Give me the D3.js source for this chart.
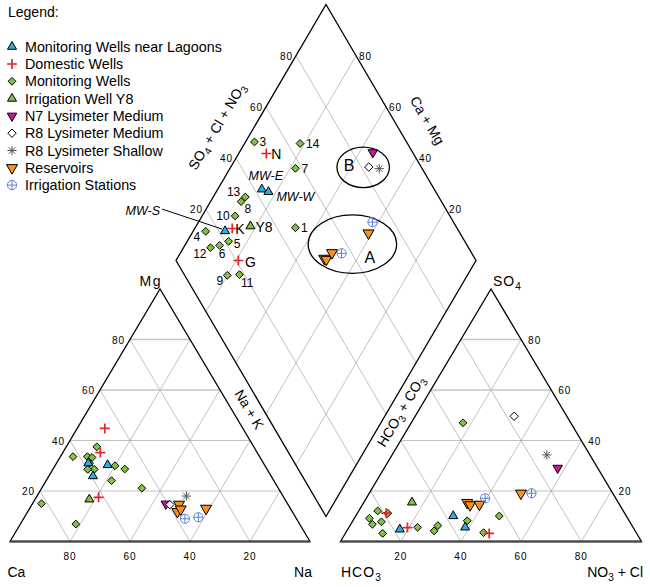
<!DOCTYPE html>
<html lang="en">
<head>
<meta charset="utf-8">
<title>Piper diagram</title>
<script src="https://cdn.jsdelivr.net/npm/d3@7"></script>
<style>
  body { margin: 0; background: #fff; }
  text { font-family: "Liberation Sans", Arial, sans-serif; fill: #000; }
  .tick { font-size: 10px; letter-spacing: 1px; }
</style>
</head>
<body>
<script>
// legend groups
var groupNames = ["Monitoring Wells near Lagoons", "Domestic Wells", "Monitoring Wells",
  "Irrigation Well Y8", "N7 Lysimeter Medium", "R8 Lysimeter Medium",
  "R8 Lysimeter Shallow", "Reservoirs", "Irrigation Stations"];

// samples, percent of meq/L
var sampleGroup = [0, 0, 0, 1, 1, 1, 2, 2, 2, 2, 2, 2, 2, 2, 2, 2, 2, 2, 2, 3, 4, 5, 6, 7, 7, 7, 7, 8, 8];
var sampleLabel = ["MW-E", "MW-W", "MW-S", "N", "K", "G", "1", "3", "4", "5", "6", "7", "8", "9",
  "10", "11", "12", "13", "14", "Y8", "", "", "", "", "", "", "", "", ""];
var caPct   = [59.4, 52.3, 58.4, 46.0, 52.3, 61.7, 45.5, 82.0, 62.2, 57.6, 59.8, 54.1, 52.3, 50.0,
  58.0, 47.4, 57.4, 56.0, 74.6, 65.2, 40.6, 39.4, 32.2, 28.1, 36.3, 38.3, 36.7, 32.4, 37.2];
var mgPct   = [25.9, 30.3, 31.0, 44.8, 35.2, 17.5, 21.1, 15.0, 33.6, 28.6, 28.6, 24.1, 37.5, 30.0,
  31.0, 28.7, 33.6, 33.3, 6.9, 16.7, 14.9, 14.6, 18.0, 13.1, 14.7, 11.8, 12.8, 9.6, 9.0];
var naPct   = [14.7, 17.4, 10.6, 9.2, 12.5, 20.8, 33.4, 3.0, 4.2, 13.8, 11.6, 21.8, 10.2, 20.0,
  11.0, 23.9, 9.0, 10.7, 18.5, 18.1, 44.5, 46.0, 49.8, 58.8, 49.0, 49.9, 50.5, 58.0, 53.8];
var hco3Pct = [57.5, 55.8, 77.9, 49.0, 75.0, 79.2, 53.8, 50.7, 84.4, 78.7, 82.5, 42.2, 66.8, 85.8,
  71.6, 81.6, 86.0, 64.5, 35.8, 68.5, 13.3, 17.5, 14.3, 30.5, 50.2, 49.7, 46.5, 27.0, 43.4];
var so4Pct  = [10.1, 5.6, 4.8, 3.2, 5.5, 11.2, 8.2, 3.5, 3.2, 11.2, 7.8, 10.1, 4.2, 9.2,
  5.6, 12.1, 6.8, 6.3, 47.0, 15.5, 29.1, 49.6, 34.3, 19.1, 15.4, 14.5, 14.7, 19.1, 17.1];
var clPct   = [32.4, 38.6, 17.3, 47.8, 19.5, 9.6, 38.0, 45.8, 12.4, 10.1, 9.7, 47.7, 29.0, 5.0,
  22.8, 6.3, 7.2, 29.2, 17.2, 16.0, 57.6, 32.9, 51.4, 50.4, 34.4, 35.8, 38.8, 53.9, 39.5];

var gridVals = [20, 40, 60, 80];

// water type ellipses in the diamond (Ca+Mg, SO4+Cl+NO3, half widths)
var zoneNames = ["B", "A"];
var zoneCaMg  = [55.8, 44.4];
var zoneAnion = [80.6, 62.0];
var zoneRx    = [17.5, 29.5];
var zoneRy    = [7.9, 11.4];

// ---------- styles ----------
var groupShape  = ["triUp", "cross", "diamond", "triUp", "triDown", "diamond", "star", "triDown", "circlePlus"];
var groupFill   = ["#2aaee4", "none", "#80c241", "#80c241", "#c6179d", "#fff", "none", "#f7901e", "none"];
var groupStroke = ["#000", "#e3262b", "#000", "#000", "#000", "#000", "#555", "#000", "#5b80d2"];
var groupSize   = [9, 5, 3.9, 9, 9.5, 4.2, 4.6, 11, 4.6];

// label placement around points in the diamond [dx, dy, anchor]
var labelPos = {
  "3": [5, 4, "start"], "N": [5, 5.5, "start"], "14": [6, 4.5, "start"], "7": [6, 4.5, "start"],
  "MW-E": [4, -9.5, "middle"], "MW-W": [8, 8.8, "start"], "13": [-5, -1, "end"], "8": [3.5, 11.5, "start"],
  "10": [-5.5, 4, "end"], "K": [3, 5.5, "start"], "Y8": [5, 6, "start"], "1": [5.5, 4, "start"],
  "4": [-5.5, 10, "end"], "5": [5, 7, "start"], "12": [-4, 10.5, "end"], "6": [2.5, 12.8, "middle"],
  "G": [6.5, 6.5, "start"], "9": [-4, 10, "end"], "11": [1.5, 12.3, "start"], "MW-S": [-65, -16, "end"]
};

var w = 650, h = 587;

var xL = d3.scaleLinear().domain([0, 100]).range([10, 310]);
var xR = d3.scaleLinear().domain([0, 100]).range([340.5, 641.5]);
var yT = d3.scaleLinear().domain([0, 100]).range([541.5, 289]);
var xD = d3.scaleLinear().domain([-100, 100]).range([176, 476]);
var yD = d3.scaleLinear().domain([0, 200]).range([516.5, 4.5]);

function catPt(mg, na) { return [xL(na + mg / 2), yT(mg)]; }
function anPt(so4, cl) { return [xR(cl + so4 / 2), yT(so4)]; }
function dmPt(c, a) { return [xD(a - c), yD(a + c)]; }

var svg = d3.select("body").append("svg")
  .attr("width", w).attr("height", h);

var grid = svg.append("g").attr("fill", "none");

function seg(p, q, cls) {
  grid.append("line")
    .attr("x1", p[0]).attr("y1", p[1]).attr("x2", q[0]).attr("y2", q[1])
    .attr("stroke", cls == "thick" ? "#c4c4c4" : "#a6a6a6")
    .attr("stroke-width", cls == "thick" ? 1.6 : 0.7);
}

gridVals.forEach(function(v) {
  // cation triangle
  seg(catPt(v, 0), catPt(v, 100 - v), v >= 60 ? "thick" : "thin");
  seg(catPt(0, v), catPt(100 - v, v));
  seg(catPt(0, 100 - v), catPt(100 - v, 0));
  // anion triangle
  seg(anPt(v, 0), anPt(v, 100 - v), v >= 60 ? "thick" : "thin");
  seg(anPt(0, v), anPt(100 - v, v));
  seg(anPt(0, 100 - v), anPt(100 - v, 0));
  // diamond
  seg(dmPt(0, v), dmPt(100, v));
  seg(dmPt(v, 0), dmPt(v, 100));
});

// outlines
var line = d3.line();
svg.append("path")
  .attr("d", line([catPt(0, 0), catPt(100, 0), catPt(0, 100)]) + "Z")
  .attr("fill", "none").attr("stroke", "#000").attr("stroke-width", 1.3);
svg.append("path")
  .attr("d", line([anPt(0, 0), anPt(100, 0), anPt(0, 100)]) + "Z")
  .attr("fill", "none").attr("stroke", "#000").attr("stroke-width", 1.3);
svg.append("path")
  .attr("d", line([dmPt(0, 0), dmPt(0, 100), dmPt(100, 100), dmPt(100, 0)]) + "Z")
  .attr("fill", "none").attr("stroke", "#000").attr("stroke-width", 1.3);
[[catPt(0, 0), catPt(0, 100)], [anPt(0, 0), anPt(0, 100)]].forEach(function(b) {
  svg.append("line")
    .attr("x1", b[0][0]).attr("y1", b[0][1]).attr("x2", b[1][0]).attr("y2", b[1][1])
    .attr("stroke", "#444").attr("stroke-width", 2);
});

// tick labels
function tick(x, y, t, anchor) {
  svg.append("text").attr("class", "tick")
    .attr("x", x).attr("y", y).attr("text-anchor", anchor).text(t);
}
gridVals.forEach(function(v) {
  var p = catPt(v, 0);
  tick(p[0] - 5, p[1] + 4, v, "end");
  tick(xL(100 - v), 560, v, "middle");
  p = anPt(v, 100 - v);
  tick(p[0] + 7, p[1] + 4, v, "start");
  tick(xR(v), 560, v, "middle");
  p = dmPt(100, v);
  tick(p[0] - 3, p[1] + 4, v, "end");
  p = dmPt(v, 100);
  tick(p[0] + 3, p[1] + 4, v, "start");
});

// axis titles, parts with {s: ".."} are subscripts
function rich(x, y, parts, opts) {
  var t = svg.append("text").attr("x", x).attr("y", y)
    .attr("font-size", opts.size || 14)
    .attr("text-anchor", opts.anchor || "start");
  if (opts.rotate) t.attr("transform", "rotate(" + opts.rotate + "," + x + "," + y + ")");
  if (opts.spacing) t.attr("letter-spacing", opts.spacing);
  var shifted = false;
  parts.forEach(function(p) {
    var ts = t.append("tspan");
    if (typeof p === "string") {
      if (shifted) ts.attr("dy", -3.5);
      shifted = false;
      ts.text(p);
    } else {
      ts.attr("dy", shifted ? 0 : 3.5).attr("font-size", (opts.size || 14) * 0.72).text(p.s);
      shifted = true;
    }
  });
  return t;
}

rich(162, 285.5, ["Mg"], {anchor: "end", spacing: 1.5});
rich(493, 286, ["SO", {s: "4"}], {spacing: 1});
rich(7.5, 577, ["Ca"], {});
rich(312, 577, ["Na"], {anchor: "end"});
rich(341, 577, ["HCO", {s: "3"}], {spacing: 1});
rich(643, 577, ["NO", {s: "3"}, " + Cl"], {anchor: "end"});
rich(245, 412, ["Na + K"], {anchor: "middle", rotate: 59.3});
rich(405, 414, ["HCO", {s: "3"}, " + CO", {s: "3"}], {anchor: "middle", rotate: -59.3});
rich(221, 129, ["SO", {s: "4"}, " + Cl + NO", {s: "3"}], {anchor: "middle", rotate: -59.3});
rich(423, 123, ["Ca + Mg"], {anchor: "middle", rotate: 59.3});

// ellipses
zoneNames.forEach(function(n, i) {
  var c = dmPt(zoneCaMg[i], zoneAnion[i]);
  svg.append("ellipse")
    .attr("cx", c[0]).attr("cy", c[1])
    .attr("rx", xD(zoneRx[i]) - xD(0)).attr("ry", yD(0) - yD(zoneRy[i]))
    .attr("fill", "none").attr("stroke", "#000").attr("stroke-width", 1.3);
  svg.append("text")
    .attr("x", c[0] + (n == "A" ? 17.5 : -14)).attr("y", c[1] + (n == "A" ? 19 : 3.5))
    .attr("text-anchor", "middle").attr("font-size", 16).text(n);
});

// marker shapes
function shapePath(type, s) {
  var hh = s * 0.866;
  if (type == "triUp") return "M0," + (-hh * 2 / 3) + "L" + (s / 2) + "," + (hh / 3) + "L" + (-s / 2) + "," + (hh / 3) + "Z";
  if (type == "triDown") return "M0," + (hh * 2 / 3) + "L" + (s / 2) + "," + (-hh / 3) + "L" + (-s / 2) + "," + (-hh / 3) + "Z";
  if (type == "diamond") return "M0," + (-s) + "L" + s + ",0L0," + s + "L" + (-s) + ",0Z";
  if (type == "cross") return "M" + (-s) + ",0H" + s + "M0," + (-s) + "V" + s;
  if (type == "star") {
    var d = s * 0.7071;
    return "M" + (-s) + ",0H" + s + "M0," + (-s) + "V" + s +
      "M" + (-d) + "," + (-d) + "L" + d + "," + d + "M" + (-d) + "," + d + "L" + d + "," + (-d);
  }
  if (type == "circlePlus") {
    return "M" + s + ",0A" + s + "," + s + " 0 1,1 " + (-s) + ",0A" + s + "," + s + " 0 1,1 " + s + ",0" +
      "M" + (-s) + ",0H" + s + "M0," + (-s) + "V" + s;
  }
}

function marker(g, x, y, gi) {
  g.append("path")
    .attr("d", shapePath(groupShape[gi], groupSize[gi]))
    .attr("transform", "translate(" + x + "," + y + ")")
    .attr("fill", groupFill[gi])
    .attr("stroke", groupStroke[gi])
    .attr("stroke-width", groupShape[gi] == "cross" ? 1.7 : 1);
}

var pts = svg.append("g");
// draw monitoring wells first so others sit on top
var order = d3.range(sampleGroup.length).sort(function(a, b) {
  var ra = sampleGroup[a] == 2 ? 0 : 1, rb = sampleGroup[b] == 2 ? 0 : 1;
  return ra - rb || a - b;
});
order.forEach(function(i) {
  var gi = sampleGroup[i];
  var c = caPct[i] + mgPct[i];
  var a = so4Pct[i] + clPct[i];
  var p1 = catPt(mgPct[i], naPct[i]);
  var p2 = anPt(so4Pct[i], clPct[i]);
  var p3 = dmPt(c, a);
  marker(pts, p1[0], p1[1], gi);
  marker(pts, p2[0], p2[1], gi);
  marker(pts, p3[0], p3[1], gi);
});

// labels in the diamond
sampleLabel.forEach(function(lb, i) {
  if (!lb) return;
  var p = dmPt(caPct[i] + mgPct[i], so4Pct[i] + clPct[i]);
  var o = labelPos[lb];
  var isMW = lb.indexOf("MW") == 0;
  var isNum = /^[0-9]+$/.test(lb);
  svg.append("text")
    .attr("x", p[0] + o[0]).attr("y", p[1] + o[1])
    .attr("text-anchor", o[2])
    .attr("font-size", isMW ? 12.5 : (isNum ? 12 : 14))
    .attr("font-style", isMW ? "italic" : null)
    .text(lb);
  if (lb == "MW-S") {
    svg.append("line")
      .attr("x1", p[0] + o[0] + 2).attr("y1", p[1] + o[1] - 6)
      .attr("x2", p[0] - 3).attr("y2", p[1] - 2)
      .attr("stroke", "#000").attr("stroke-width", 1);
  }
});

// legend
svg.append("text").attr("x", 8).attr("y", 17).attr("font-size", 14).text("Legend:");
var legend = svg.append("g");
groupNames.forEach(function(n, i) {
  var y = 46.7 + i * 17.3;
  marker(legend, 12, y, i);
  legend.append("text").attr("x", 25).attr("y", y + 5).attr("font-size", 14.3).text(n);
});
</script>
</body>
</html>
